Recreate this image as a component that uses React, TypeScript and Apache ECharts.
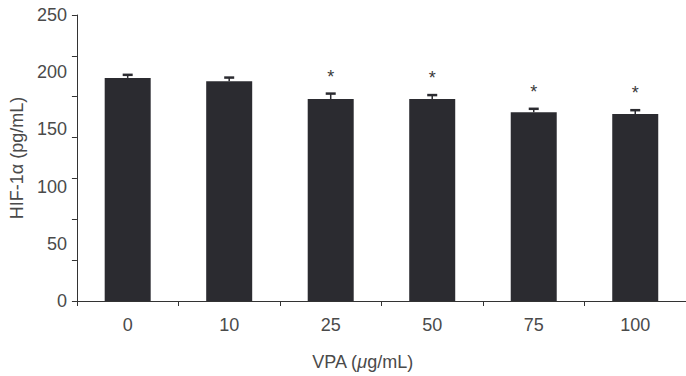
import React, { useEffect, useRef } from "react";
import * as echarts from "echarts";

// VPA concentrations (µg/mL)
const doses = ["0", "10", "25", "50", "75", "100"];
// Mean HIF-1α level (pg/mL)
const means = [195, 192, 176.5, 176.5, 165, 163.5];
// Upper error (SD)
const errors = [2.7, 3.3, 4.8, 3.5, 3.0, 3.3];
// Significance markers
const significant = [false, false, true, true, true, true];

const FONT = "'Liberation Sans', Arial, Helvetica, sans-serif";
const TEXT = "#4a4a4a";
const AXIS = "#333333";
const BAR = "#2b2b30";

export default function App() {
  const ref = useRef<HTMLDivElement>(null);

  useEffect(() => {
    if (!ref.current) return;
    const chart = echarts.init(ref.current, undefined, { renderer: "svg" });

    const errData = means.map((m, i) => [i, m, errors[i], significant[i] ? 1 : 0]);

    chart.setOption({
      animation: false,
      backgroundColor: "#ffffff",
      grid: { left: 72, right: 0, top: 15, bottom: 70 },
      xAxis: {
        type: "category",
        data: doses,
        boundaryGap: true,
        name: "VPA ({mu|\u03bc}g/mL)",
        nameLocation: "middle",
        nameGap: 52,
        nameTextStyle: {
          color: TEXT,
          fontSize: 18,
          fontFamily: FONT,
          padding: [0, 38, 0, 0],
          rich: {
            mu: { color: TEXT, fontSize: 18, fontFamily: FONT, fontStyle: "italic" },
          },
        },
        axisLine: { show: true, lineStyle: { color: AXIS, width: 1 } },
        axisTick: { show: true, length: 5, alignWithLabel: false, lineStyle: { color: AXIS } },
        axisLabel: { color: TEXT, fontSize: 18, fontFamily: FONT, margin: 15 },
        splitLine: { show: false },
      },
      yAxis: [
        {
          type: "value",
          min: 0,
          max: 250,
          interval: 50,
          name: "HIF-1\u03b1 (pg/mL)",
          nameLocation: "middle",
          nameGap: 48,
          nameTextStyle: { color: TEXT, fontSize: 18, fontFamily: FONT },
          axisLine: { show: true, lineStyle: { color: AXIS, width: 1 } },
          axisTick: { show: false },
          axisLabel: { color: TEXT, fontSize: 18, fontFamily: FONT, margin: 10 },
          splitLine: { show: false },
        },
        {
          // tick marks only, seven even divisions of the axis
          type: "value",
          position: "left",
          min: 0,
          max: 250,
          interval: 250 / 7,
          axisLine: { show: false },
          axisTick: { show: true, length: 5, lineStyle: { color: AXIS } },
          axisLabel: { show: false },
          splitLine: { show: false },
        },
      ],
      series: [
        {
          type: "bar",
          data: means,
          barWidth: 46,
          itemStyle: { color: BAR },
          yAxisIndex: 0,
          z: 2,
        },
        {
          type: "custom",
          yAxisIndex: 0,
          data: errData,
          encode: { x: 0, y: 1 },
          z: 3,
          renderItem: (params: any, api: any) => {
            const i = api.value(0);
            const m = api.value(1);
            const e = api.value(2);
            const sig = api.value(3);
            const top = api.coord([i, m]);
            const cap = api.coord([i, m + e]);
            const x = top[0];
            const children: any[] = [
              {
                type: "line",
                shape: { x1: x, y1: top[1], x2: x, y2: cap[1] },
                style: { stroke: BAR, lineWidth: 1.5 },
              },
              {
                type: "line",
                shape: { x1: x - 5, y1: cap[1], x2: x + 5, y2: cap[1] },
                style: { stroke: BAR, lineWidth: 2.5 },
              },
            ];
            if (sig) {
              children.push({
                type: "text",
                style: {
                  text: "*",
                  x: x,
                  y: cap[1] - 17,
                  fill: "#3a3a3a",
                  fontSize: 18,
                  fontFamily: FONT,
                  align: "center",
                  verticalAlign: "middle",
                },
              });
            }
            return { type: "group", children };
          },
        },
      ],
    });

    return () => chart.dispose();
  }, []);

  return (
    <div
      ref={ref}
      style={{ position: "absolute", left: 0, top: 0, width: 686, height: 376 }}
    />
  );
}
